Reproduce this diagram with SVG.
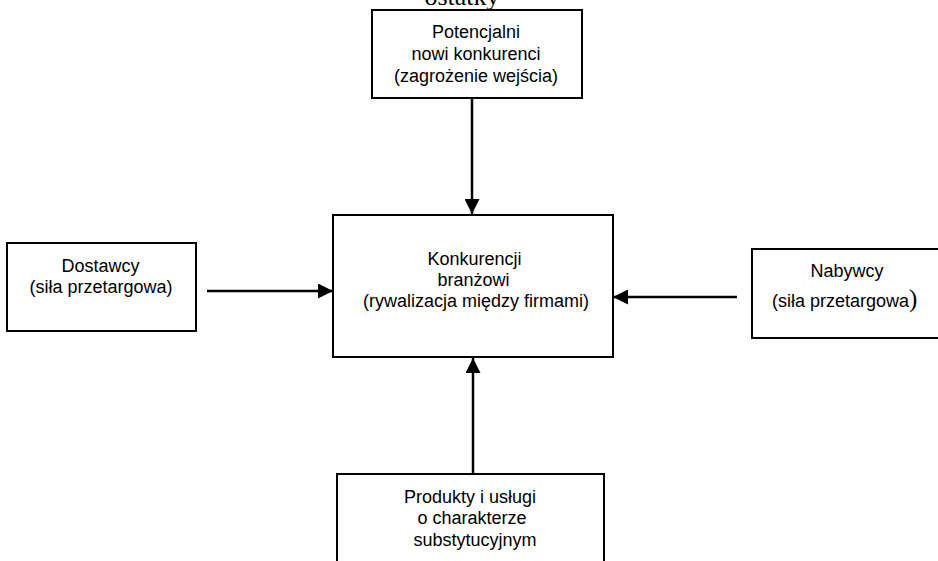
<svg xmlns="http://www.w3.org/2000/svg" width="938" height="561" viewBox="0 0 938 561">
  <style>
    .box { fill: #ffffff; stroke: #000000; stroke-width: 2; }
    .lbl { font-family: "Liberation Sans", Arial, sans-serif; font-size: 18px; fill: #000000; text-anchor: middle; }
    .edge { stroke: #000000; stroke-width: 2.5; fill: none; marker-end: url(#head); }
  </style>
  <defs>
    <marker id="head" markerUnits="userSpaceOnUse" markerWidth="15" markerHeight="15" viewBox="0 0 15 15" refX="15" refY="7.5" orient="auto">
      <path d="M0,0 L15,7.5 L0,15 Z" fill="#000000"/>
    </marker>
  </defs>
  <rect width="938" height="561" fill="#ffffff"/>

  <!-- heading, cut off at the top edge -->
  <text x="462" y="5" font-family="Liberation Serif, Times New Roman, serif" font-size="26" text-anchor="middle">ostatky</text>

  <g id="entrants">
    <rect class="box" x="372" y="10" width="210" height="88"/>
    <text class="lbl" x="476" y="38">Potencjalni</text>
    <text class="lbl" x="476" y="60">nowi konkurenci</text>
    <text class="lbl" x="476" y="82">(zagrożenie wejścia)</text>
  </g>

  <g id="rivalry">
    <rect class="box" x="333" y="215" width="280" height="142"/>
    <text class="lbl" x="474.5" y="265">Konkurencji</text>
    <text class="lbl" x="473.5" y="286">branżowi</text>
    <text class="lbl" x="476" y="307">(rywalizacja między firmami)</text>
  </g>

  <g id="suppliers">
    <rect class="box" x="7" y="243" width="189" height="88"/>
    <text class="lbl" x="100.5" y="272">Dostawcy</text>
    <text class="lbl" x="101" y="293">(siła przetargowa)</text>
  </g>

  <g id="buyers">
    <rect class="box" x="752" y="249" width="200" height="89"/>
    <text class="lbl" x="847" y="277">Nabywcy</text>
    <text class="lbl" style="text-anchor:start" x="772" y="307">(siła przetargowa<tspan font-family="Liberation Serif, Times New Roman, serif" font-size="25">)</tspan></text>
  </g>

  <g id="substitutes">
    <rect class="box" x="337" y="474" width="267" height="100"/>
    <text class="lbl" x="470" y="503">Produkty i usługi</text>
    <text class="lbl" x="472" y="524">o charakterze</text>
    <text class="lbl" x="475" y="546">substytucyjnym</text>
  </g>

  <g id="connectors">
    <line class="edge" x1="472" y1="98" x2="472" y2="214"/>
    <line class="edge" x1="207" y1="291" x2="333" y2="291"/>
    <line class="edge" x1="737" y1="297" x2="613" y2="297"/>
    <line class="edge" x1="473" y1="474" x2="473" y2="358"/>
  </g>
</svg>
